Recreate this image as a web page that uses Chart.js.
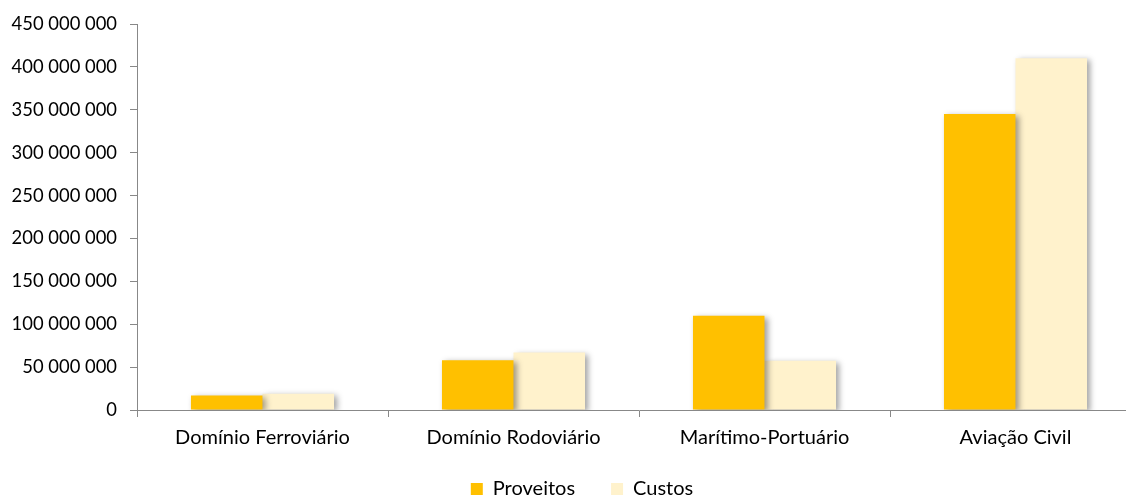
<!DOCTYPE html>
<html>
<head>
<meta charset="utf-8">
<script src="https://cdn.jsdelivr.net/npm/chart.js@4.4.0/dist/chart.umd.min.js"></script>
<style>
  html, body { margin: 0; padding: 0; background: #fff; overflow: hidden; }
  #wrap { width: 1160px; height: 509px; }
</style>
</head>
<body>
<div id="wrap"><canvas id="c" width="1160" height="509"></canvas></div>
<script>
const categories = ['Domínio Ferroviário', 'Domínio Rodoviário', 'Marítimo-Portuário', 'Aviação Civil'];
const seriesNames = ['Proveitos', 'Custos'];
const proveitos = [17000000, 58000000, 110000000, 345000000];
const custos = [19000000, 67000000, 57500000, 410000000];
const yMin = 0, yMax = 450000000, yStep = 50000000;

const FONT = 'Lato, "Open Sans", sans-serif';

const shadowPlugin = {
  id: 'barShadow',
  beforeDatasetsDraw(chart) {
    const ctx = chart.ctx;
    ctx.save();
    ctx.shadowColor = 'rgba(0,0,0,0.38)';
    ctx.shadowBlur = 6;
    ctx.shadowOffsetX = 3;
    ctx.shadowOffsetY = 2;
  },
  afterDatasetsDraw(chart) {
    chart.ctx.restore();
  }
};

// do not clip tick labels to the scale box
const noClip = scale => { scale._computeLabelArea = () => undefined; };

new Chart(document.getElementById('c'), {
  type: 'bar',
  data: {
    labels: categories,
    datasets: [
      { label: seriesNames[0], data: proveitos, backgroundColor: '#FFC000', borderWidth: 0 },
      { label: seriesNames[1], data: custos, backgroundColor: '#FFF2CC', borderWidth: 0 }
    ]
  },
  options: {
    responsive: false,
    devicePixelRatio: 1,
    animation: false,
    categoryPercentage: 0.57,
    barPercentage: 1.0,
    layout: { padding: { left: 23, right: 19, top: 22, bottom: 0 } },
    plugins: {
      tooltip: { enabled: false },
      legend: {
        position: 'bottom',
        labels: {
          boxWidth: 12, boxHeight: 12, padding: 36,
          color: '#000', font: { family: FONT, size: 20 }
        }
      }
    },
    scales: {
      x: {
        grid: { offset: true, drawOnChartArea: false, tickLength: 7, color: '#888' },
        border: { color: '#888', width: 1 },
        ticks: { color: '#000', font: { family: FONT, size: 20 }, padding: 9, maxRotation: 0 },
        afterFit(scale) { scale.height = 33; noClip(scale); }
      },
      y: {
        min: yMin, max: yMax,
        grid: { drawOnChartArea: false, tickLength: 7, color: '#888' },
        border: { color: '#888', width: 1 },
        ticks: {
          stepSize: yStep, color: '#000', padding: 13,
          font: { family: FONT, size: 18.4 },
          callback: v => String(v).replace(/\B(?=(\d{3})+(?!\d))/g, ' ')
        },
        afterFit(scale) { scale.width = 114; noClip(scale); }
      }
    }
  },
  plugins: [shadowPlugin]
});
</script>
</body>
</html>
